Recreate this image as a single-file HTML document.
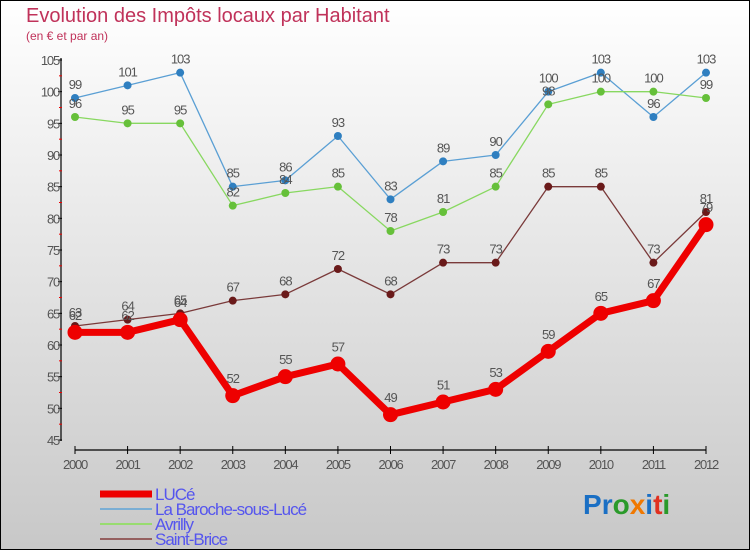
<!DOCTYPE html>
<html><head><meta charset="utf-8"><style>
html,body{margin:0;padding:0}
body{width:750px;height:550px;overflow:hidden;font-family:"Liberation Sans",sans-serif}
#frame{position:absolute;left:0;top:0;width:748px;height:548px;border:1px solid #000;background:linear-gradient(#ffffff,#c8c8c8)}
</style></head><body>
<div id="frame">
<svg id="chart" width="750" height="550" style="position:absolute;left:-1px;top:-1px">
<text x="26" y="22" font-size="20" fill="#c0325a">Evolution des Impôts locaux par Habitant</text>
<text x="26" y="40" font-size="12" fill="#c0325a">(en € et par an)</text>
<g id="axes"></g><g id="series"></g><g id="legend"></g>
<text x="583" y="514" font-size="28" font-weight="bold"><tspan fill="#1a6fc4">P</tspan><tspan fill="#1a6fc4">r</tspan><tspan fill="#2a9a2a">o</tspan><tspan fill="#f07800">x</tspan><tspan fill="#1a6fc4">i</tspan><tspan fill="#e03020">t</tspan><tspan fill="#2a9a2a">i</tspan></text>
</svg></div>
<script>
const years=["2000","2001","2002","2003","2004","2005","2006","2007","2008","2009","2010","2011","2012"];
const luce=[62,62,64,52,55,57,49,51,53,59,65,67,79];
const baroche=[99,101,103,85,86,93,83,89,90,100,103,96,103];
const avrilly=[96,95,95,82,84,85,78,81,85,98,100,100,99];
const stbrice=[63,64,65,67,68,72,68,73,73,85,85,73,81];
const yTicks=[45,50,55,60,65,70,75,80,85,90,95,100,105];
const NS="http://www.w3.org/2000/svg";
const x=i=>75+i*(706-75)/(years.length-1);
const y=v=>440-(v-45)*(440-60)/60;
function mk(tag,attrs,parent,txt){const e=document.createElementNS(NS,tag);for(const k in attrs)e.setAttribute(k,attrs[k]);if(txt!==undefined)e.textContent=txt;parent.appendChild(e);return e;}
const ax=document.getElementById('axes');
let a=mk('line',{x1:61,y1:58,x2:61,y2:441,stroke:'#000','stroke-width':1.2},ax);

a=mk('line',{x1:75,y1:450,x2:706,y2:450,stroke:'#000','stroke-width':1.2},ax);

yTicks.forEach((v,i)=>{mk('line',{x1:58,y1:y(v),x2:62,y2:y(v),stroke:'#000'},ax);
 if(i<yTicks.length-1)mk('line',{x1:59,y1:y(v+2.5),x2:62,y2:y(v+2.5),stroke:'#e00'},ax);
 const t=mk('text',{x:59,y:y(v)+5,'font-size':13,'text-anchor':'end',fill:'#555','letter-spacing':'-1.2'},ax,v);
 });
years.forEach((yr,i)=>{mk('line',{x1:x(i),y1:446,x2:x(i),y2:454,stroke:'#000'},ax);
 const t=mk('text',{x:x(i),y:469,'font-size':13,'text-anchor':'middle',fill:'#555','letter-spacing':'-1.2'},ax,yr);
 });
const sg=document.getElementById('series');
const defs=[[baroche,'#5a9fd4','#2f7fc0',1.3,4,'baroche'],[avrilly,'#88d860','#66c03a',1.3,4,'avrilly'],[stbrice,'#7a3a3a','#6a1a1a',1.3,4,'saint-brice'],[luce,'#ee0000','#ee0000',7,7.5,'luce']];
defs.forEach(([d,lc,pc,w,r,n])=>{
 const g=mk('g',{},sg);
 const p=mk('polyline',{points:d.map((v,i)=>x(i)+','+y(v)).join(' '),fill:'none',stroke:lc,'stroke-width':w,'stroke-linejoin':'round'},g);
 
 d.forEach((v,i)=>{const c=mk('circle',{cx:x(i),cy:y(v),r:r,fill:pc},g);
  
  const t=mk('text',{x:x(i),y:y(v)-(r+5),'font-size':13,'text-anchor':'middle',fill:'#555','letter-spacing':'-1'},g,v);
  });
});
const lg=document.getElementById('legend');
const items=[['LUCé','#ee0000',7],['La Baroche-sous-Lucé','#7aaed4',2],['Avrilly','#98dc70',2],['Saint-Brice','#956060',2]];
items.forEach(([l,c,w],i)=>{const yy=494+i*15;
 const e=mk('line',{x1:100,y1:yy,x2:152,y2:yy,stroke:c,'stroke-width':w},lg);
 
 const t=mk('text',{x:155,y:yy+6,'font-size':17,fill:'#5555ee','letter-spacing':'-1'},lg,l);
 });
</script>
</body></html>
